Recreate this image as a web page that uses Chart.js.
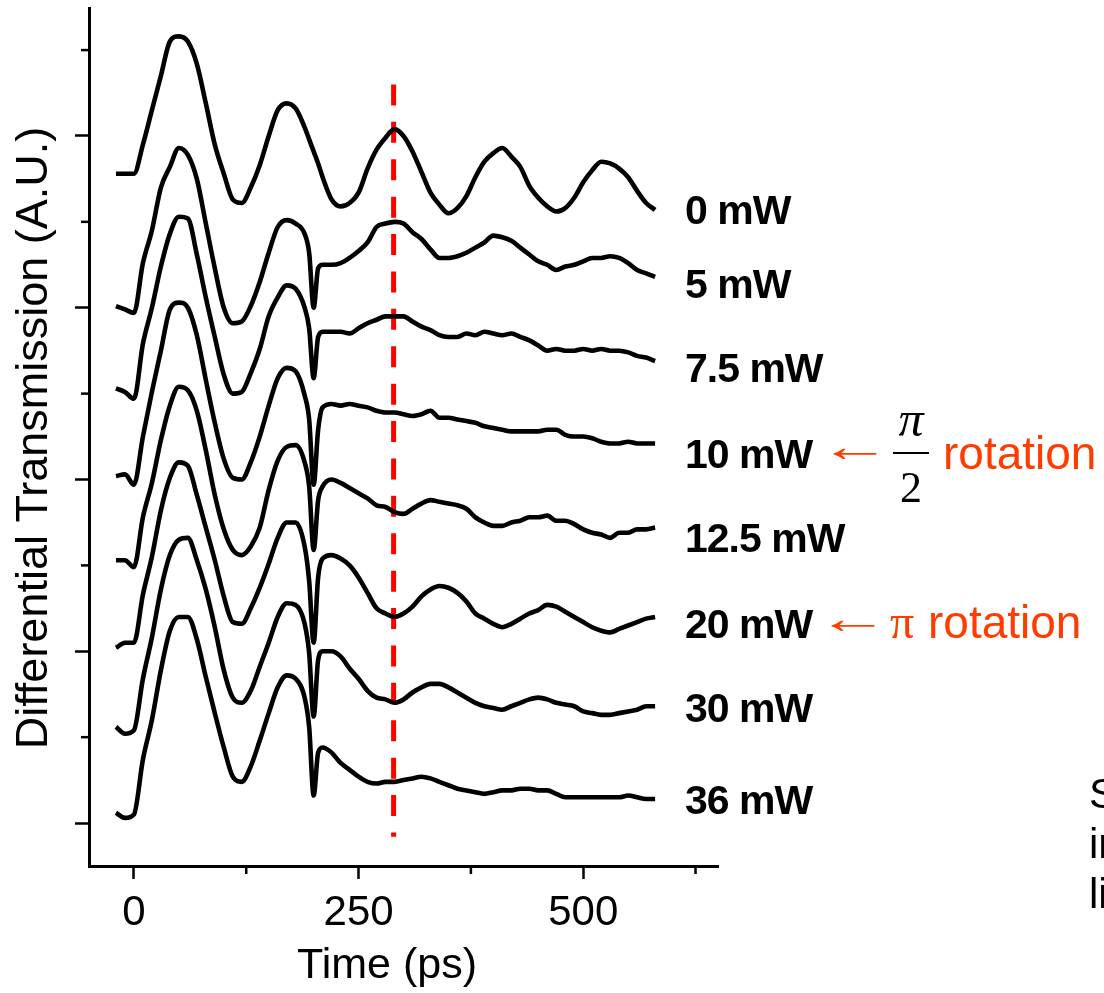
<!DOCTYPE html>
<html>
<head>
<meta charset="utf-8">
<script src="https://cdn.jsdelivr.net/npm/chart.js@4.4.1/dist/chart.umd.min.js"></script>
<style>
  html, body { margin: 0; padding: 0; background: #ffffff; }
  #wrap { width: 1104px; height: 993px; position: relative; }
</style>
</head>
<body>
<div id="wrap"><canvas id="c" width="1104" height="993"></canvas></div>
<script>
// ---------- DATA ----------
const times = [-20,-10,0,10,20,30,40,50,60,70,80,90,100,110,120,130,140,150,160,170,180,190,195,200,205,210,220,230,240,250,260,270,280,290,300,310,320,330,340,350,360,370,380,390,400,410,420,430,440,450,460,470,480,490,500,510,520,530,540,550,560,570,580];

const p0mW = [3.78,3.78,3.78,3.95,4.15,4.35,4.55,4.58,4.55,4.42, 4.19,3.95,3.78,3.63,3.61,3.70,3.83,4.00,4.15,4.19, 4.16,4.05,3.98,3.91,3.84,3.76,3.63,3.59,3.61,3.67, 3.81,3.92,3.99,4.04,4.00,3.91,3.79,3.67,3.60,3.55, 3.58,3.65,3.76,3.85,3.90,3.93,3.88,3.82,3.71,3.64, 3.59,3.56,3.58,3.64,3.73,3.80,3.85,3.84,3.81,3.76, 3.68,3.61,3.57];
const p5mW = [3.01,2.99,2.97,3.26,3.45,3.70,3.82,3.93,3.89,3.75, 3.49,3.23,3.00,2.91,2.92,3.01,3.15,3.32,3.47,3.51, 3.49,3.43,3.32,3.00,3.23,3.25,3.25,3.26,3.29,3.33, 3.38,3.47,3.49,3.50,3.49,3.44,3.40,3.34,3.29,3.29, 3.30,3.32,3.35,3.38,3.42,3.41,3.39,3.35,3.31,3.27, 3.25,3.22,3.24,3.25,3.27,3.29,3.29,3.30,3.29,3.26, 3.22,3.20,3.18];
const p7_5mW = [2.53,2.51,2.47,2.79,3.00,3.24,3.43,3.53,3.52,3.31, 3.06,2.83,2.61,2.50,2.51,2.62,2.76,2.95,3.06,3.13, 3.11,3.00,2.88,2.59,2.83,2.86,2.86,2.86,2.85,2.88, 2.91,2.93,2.95,2.95,2.95,2.92,2.89,2.87,2.84,2.83, 2.83,2.85,2.84,2.86,2.85,2.84,2.85,2.83,2.81,2.78, 2.75,2.76,2.75,2.75,2.76,2.75,2.76,2.75,2.75,2.74, 2.72,2.71,2.69];
const p10mW = [2.02,2.03,1.97,2.25,2.51,2.75,2.99,3.03,3.00,2.84, 2.58,2.33,2.12,2.01,2.00,2.10,2.25,2.43,2.59,2.65, 2.63,2.49,2.35,1.97,2.29,2.42,2.44,2.43,2.44,2.43, 2.42,2.40,2.39,2.39,2.38,2.37,2.38,2.40,2.36,2.36, 2.35,2.34,2.33,2.31,2.30,2.29,2.28,2.28,2.28,2.28, 2.29,2.29,2.26,2.25,2.25,2.24,2.22,2.21,2.21,2.22, 2.21,2.21,2.21];
const p12_5mW = [1.53,1.53,1.49,1.78,1.98,2.23,2.43,2.54,2.52,2.40, 2.17,1.91,1.71,1.59,1.56,1.61,1.72,1.94,2.11,2.19, 2.20,2.10,1.96,1.59,1.88,1.96,2.00,1.98,1.95,1.92, 1.89,1.85,1.84,1.81,1.80,1.83,1.86,1.88,1.87,1.86, 1.85,1.83,1.78,1.75,1.73,1.73,1.75,1.76,1.78,1.78, 1.79,1.76,1.76,1.74,1.71,1.69,1.68,1.66,1.69,1.69, 1.71,1.71,1.72];
const p20mW = [1.02,1.05,1.05,1.33,1.55,1.82,2.01,2.10,2.08,1.91, 1.72,1.53,1.32,1.17,1.16,1.25,1.37,1.51,1.66,1.75, 1.75,1.61,1.41,1.05,1.43,1.54,1.56,1.54,1.50,1.43, 1.34,1.25,1.22,1.20,1.22,1.26,1.32,1.36,1.38,1.37, 1.34,1.29,1.22,1.19,1.16,1.14,1.16,1.19,1.22,1.24, 1.27,1.26,1.23,1.20,1.17,1.14,1.12,1.11,1.13,1.15, 1.17,1.19,1.20];
const p30mW = [0.56,0.52,0.54,0.84,1.08,1.36,1.56,1.65,1.66,1.53, 1.36,1.14,0.89,0.73,0.70,0.77,0.91,1.05,1.20,1.28, 1.27,1.16,0.99,0.62,0.95,1.00,1.00,0.97,0.90,0.84, 0.77,0.73,0.72,0.70,0.72,0.76,0.79,0.81,0.81,0.79, 0.76,0.73,0.70,0.68,0.67,0.66,0.68,0.70,0.72,0.73, 0.72,0.70,0.69,0.68,0.65,0.64,0.63,0.63,0.64,0.65, 0.66,0.68,0.68];
const p36mW = [0.06,0.03,0.05,0.37,0.60,0.89,1.12,1.20,1.20,1.07, 0.85,0.64,0.44,0.27,0.24,0.33,0.48,0.64,0.79,0.86, 0.84,0.73,0.56,0.16,0.41,0.44,0.41,0.35,0.31,0.27, 0.24,0.23,0.24,0.24,0.25,0.26,0.27,0.26,0.24,0.22, 0.20,0.19,0.18,0.17,0.18,0.19,0.19,0.20,0.20,0.19, 0.19,0.17,0.15,0.15,0.15,0.15,0.15,0.15,0.15,0.16, 0.15,0.14,0.14];

const seriesNames = ['0 mW','5 mW','7.5 mW','10 mW','12.5 mW','20 mW','30 mW','36 mW'];
const seriesValues = [p0mW, p5mW, p7_5mW, p10mW, p12_5mW, p20mW, p30mW, p36mW];

const xMajorTicks = [0, 250, 500];
const xMajorLabels = ['0', '250', '500'];
const xMinorTicks = [125, 375, 625];
const yMajorTicks = [0, 1, 2, 3, 4];
const yMinorTicks = [0.5, 1.5, 2.5, 3.5, 4.5];

const markerTime = 289;          // red dashed marker (ps)
const markerRange = [4.30, -0.08];

const xTitle = 'Time (ps)';
const yTitle = 'Differential Transmission (A.U.)';
const note1 = 'rotation';
const note2 = 'rotation';
const sideText = ['S', 'in', 'li'];

// ---------- STYLE / LAYOUT ----------
const SANS = '"Liberation Sans", Arial, Helvetica, sans-serif';
const SERIF = '"Liberation Serif", "Times New Roman", serif';
const RED = '#ff3c00';

const datasets = seriesValues.map((vals, i) => ({
  label: seriesNames[i],
  data: times.map((t, k) => ({ x: t, y: vals[k] })),
  borderColor: '#000',
  borderWidth: 4.6,
  pointRadius: 0,
  cubicInterpolationMode: 'monotone',
  borderJoinStyle: 'round',
  fill: false
}));
datasets.push({
  label: 'marker',
  data: [{ x: markerTime, y: markerRange[0] }, { x: markerTime, y: markerRange[1] }],
  borderColor: '#ff0000',
  borderWidth: 5,
  borderDash: [21, 16.4],
  borderCapStyle: 'butt',
  pointRadius: 0,
  fill: false
});

const labelBaselines = [224, 298, 382, 468, 552, 638, 722, 814];

function drawArrow(ctx, left, centerY, width) {
  ctx.save();
  ctx.font = `44px ${SERIF}`;
  ctx.textAlign = 'left';
  ctx.textBaseline = 'alphabetic';
  const m = ctx.measureText('\u2190');
  const ink = (m.actualBoundingBoxLeft + m.actualBoundingBoxRight) || 40;
  const sx = width / ink;
  const base = centerY + (m.actualBoundingBoxAscent - m.actualBoundingBoxDescent) / 2;
  ctx.translate(left, 0);
  ctx.scale(sx, 1);
  ctx.fillText('\u2190', m.actualBoundingBoxLeft, base);
  ctx.restore();
}

const decor = {
  id: 'decor',
  afterDraw(chart) {
    const ctx = chart.ctx, xs = chart.scales.x, ys = chart.scales.y, a = chart.chartArea;
    ctx.save();
    // minor ticks
    ctx.strokeStyle = '#000'; ctx.lineWidth = 2.5; ctx.lineCap = 'butt';
    yMinorTicks.forEach(v => {
      const y = ys.getPixelForValue(v);
      ctx.beginPath(); ctx.moveTo(a.left - 8, y); ctx.lineTo(a.left, y); ctx.stroke();
    });
    xMinorTicks.forEach(v => {
      const x = xs.getPixelForValue(v);
      ctx.beginPath(); ctx.moveTo(x, a.bottom); ctx.lineTo(x, a.bottom + 8); ctx.stroke();
    });
    // axis titles
    ctx.fillStyle = '#000';
    ctx.textBaseline = 'alphabetic';
    ctx.textAlign = 'center';
    ctx.font = `43px ${SANS}`;
    ctx.fillText(xTitle, 387, 978);
    ctx.save();
    ctx.translate(47, 438); ctx.rotate(-Math.PI / 2);
    ctx.font = `45px ${SANS}`;
    ctx.fillText(yTitle, 0, 0);
    ctx.restore();
    // series labels
    ctx.textAlign = 'left';
    ctx.font = `bold 41px ${SANS}`;
    try { ctx.letterSpacing = '-1px'; } catch (e) {}
    seriesNames.forEach((n, i) => ctx.fillText(n, 685, labelBaselines[i]));
    try { ctx.letterSpacing = '0px'; } catch (e) {}
    // arrows
    ctx.fillStyle = RED;
    drawArrow(ctx, 832, 454, 46);
    drawArrow(ctx, 830, 626, 46);
    // pi/2 fraction (black)
    ctx.fillStyle = '#000';
    ctx.textAlign = 'center';
    ctx.textBaseline = 'alphabetic';
    ctx.font = `italic 50px ${SERIF}`;
    ctx.fillText('\u03c0', 911, 436);
    ctx.font = `44px ${SERIF}`;
    ctx.fillText('2', 911, 502);
    ctx.strokeStyle = '#000'; ctx.lineWidth = 2;
    ctx.beginPath(); ctx.moveTo(893, 453); ctx.lineTo(929, 453); ctx.stroke();
    // rotation words
    ctx.fillStyle = RED;
    ctx.textAlign = 'left';
    ctx.font = `46px ${SANS}`;
    ctx.fillText(note1, 943, 469);
    ctx.fillText(note2, 928, 638);
    ctx.font = `48px ${SERIF}`;
    ctx.textAlign = 'center';
    ctx.fillText('\u03c0', 902, 638);
    // clipped side text
    ctx.fillStyle = '#000';
    ctx.textAlign = 'left';
    ctx.font = `42px ${SANS}`;
    ctx.fillText(sideText[0], 1089, 808);
    ctx.fillText(sideText[1], 1089, 858);
    ctx.fillText(sideText[2], 1089, 908);
    ctx.restore();
  }
};

new Chart(document.getElementById('c'), {
  type: 'line',
  data: { datasets },
  options: {
    responsive: false,
    animation: false,
    devicePixelRatio: 1,
    layout: { padding: { top: 8, right: 386, left: 0, bottom: 0 } },
    plugins: { legend: { display: false }, tooltip: { enabled: false } },
    elements: { line: { tension: 0 } },
    scales: {
      x: {
        type: 'linear', min: -50, max: 650,
        afterBuildTicks(s) { s.ticks = xMajorTicks.map(v => ({ value: v })); },
        afterFit(s) { s.height = 127; },
        grid: { drawOnChartArea: false, drawTicks: true, tickLength: 13, tickWidth: 2.5, tickColor: '#000' },
        border: { display: true, color: '#000', width: 3 },
        ticks: {
          autoSkip: false, maxRotation: 0, minRotation: 0, padding: 9, color: '#000',
          font: { family: SANS, size: 42 },
          callback: (v) => { const i = xMajorTicks.indexOf(v); return i >= 0 ? xMajorLabels[i] : ''; }
        },
        title: { display: false }
      },
      y: {
        type: 'linear', min: -0.25, max: 4.745,
        afterBuildTicks(s) { s.ticks = yMajorTicks.map(v => ({ value: v })); },
        afterFit(s) { s.width = 89; },
        grid: { drawOnChartArea: false, drawTicks: true, tickLength: 14, tickWidth: 2.5, tickColor: '#000' },
        border: { display: true, color: '#000', width: 3 },
        ticks: { display: false },
        title: { display: false }
      }
    }
  },
  plugins: [decor]
});
</script>
</body>
</html>
